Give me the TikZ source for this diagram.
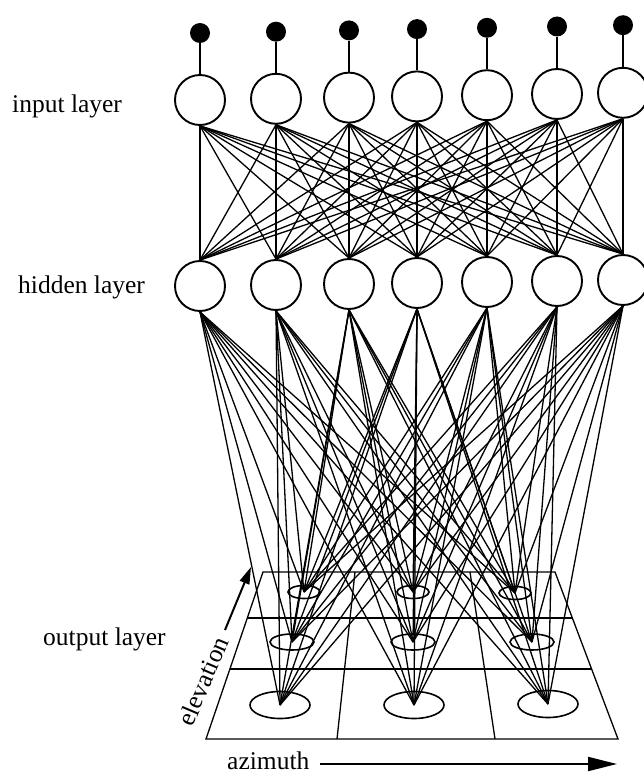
\documentclass[tikz,border=0pt]{standalone}
\usepackage{fontspec}
\setmainfont{Liberation Serif}
\usetikzlibrary{shapes.geometric,arrows.meta,calc}

\tikzset{
    neuron/.style={circle, draw, line width=1.9pt, minimum size=50pt, inner sep=0pt},
    feed/.style={circle, fill=black, minimum size=20pt, inner sep=0pt},
    cell/.style={ellipse, draw, line width=1.6pt, inner sep=0pt},
    link/.style={line width=1.3pt},
    layertext/.style={font=\fontsize{25.5}{30}\selectfont, anchor=base west, inner sep=0pt}
}

\begin{document}
\begin{tikzpicture}[x=1pt, y=-1pt]
\useasboundingbox (0,0) rectangle (644,773);
\clip (0,0) rectangle (644,773);

% Input and hidden layers
\foreach \x [count=\i] in {200,276,349,417,487,557,623} {
    \node[feed] (f\i) at (\x,{33-1.3*(\i-1)}) {};
    \node[neuron] (in\i) at (\x,{100-1.2*(\i-1)}) {};
    \node[neuron] (hid\i) at (\x,{286-(\i-1)}) {};
    \draw[link] (f\i) -- (in\i);
}
\foreach \i in {1,...,7} {
    \foreach \j in {1,...,7} {
        \draw[link] (in\i.south) -- (hid\j.north);
    }
}

% Output layer: grid seen in perspective
\coordinate (bl) at (206,739);
\coordinate (br) at (618,739);
\coordinate (tl) at (263,572);
\coordinate (tr) at (555,572);
\draw[link] (bl) -- (br) -- (tr) -- (tl) -- cycle;
\foreach \t in {0.419,0.725} {
    \draw[link] ($(bl)!\t!(tl)$) -- ($(br)!\t!(tr)$);
}
\draw[link] (337,739) -- (355,572);
\draw[link] (495,739) -- (470,572);

\foreach \x/\y/\w/\h [count=\k] in {280/705/60/27, 414/705/60/27, 548/704/60/27,
    292/642/44/16, 413/642/44/16, 532/642/44/16,
    304/592/32/13, 413/592/32/13, 515/593/32/13} {
    \node[cell, minimum width=\w pt, minimum height=\h pt] (out\k) at (\x,\y) {};
}
\foreach \i in {1,...,7} {
    \foreach \k in {1,...,9} {
        \draw[link] (hid\i.south) -- (out\k.center);
    }
}

% Labels
\node[layertext] (inlab) at (12,113) {input layer};
\node[layertext] (hidlab) at (18,293) {hidden layer};
\node[layertext] (outlab) at (43,645) {output layer};
\node[layertext, anchor=center, rotate=67] (elev) at (203,681) {elevation};
\node[layertext] (azim) at (227,769) {azimuth};

% Axis arrows
\coordinate (elevtail) at (225,630);
\coordinate (elevtip) at (251,567);
\draw[line width=2pt, -{Triangle[length=17pt,width=10pt]}] (elevtail) -- (elevtip);
\coordinate (azimtip) at (617,764);
\draw[line width=2pt, -{Triangle[length=29pt,width=14pt]}] (azim.east |- azimtip) ++(10,0) -- (azimtip);
\end{tikzpicture}
\end{document}
